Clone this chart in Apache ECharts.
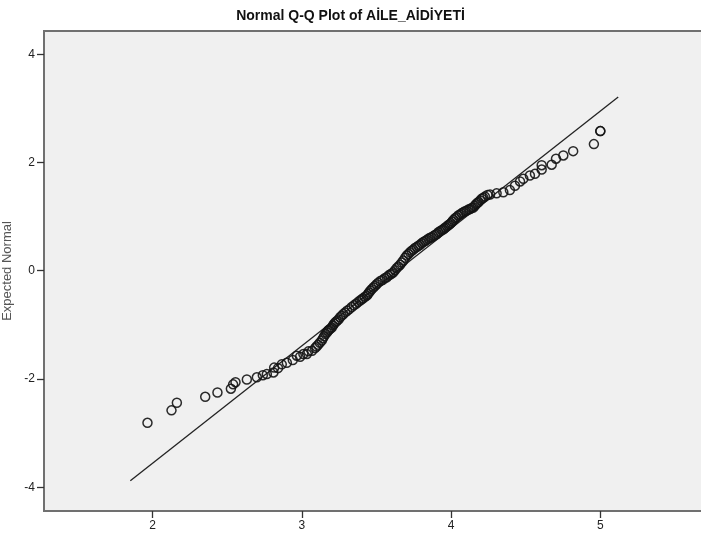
<!DOCTYPE html>
<html>
<head>
<meta charset="utf-8">
<script src="https://cdn.jsdelivr.net/npm/echarts@6/dist/echarts.min.js"></script>
<style>
html,body{margin:0;padding:0;background:#fff;}
#c{width:701px;height:534px;}
</style>
</head>
<body>
<div id="c"></div>
<script>
var titleText = 'Normal Q-Q Plot of AİLE_AİDİYETİ';
var yAxisName = 'Expected Normal';
var xTicks = [2, 3, 4, 5];
var yTicks = [-4, -2, 0, 2, 4];

var qqPoints = [
  [1.965,-2.81],[2.126,-2.58],[2.162,-2.44],[2.352,-2.33],[2.434,-2.25],
  [2.524,-2.18],[2.539,-2.10],[2.555,-2.06],[2.631,-2.01],[2.698,-1.97],
  [2.738,-1.93],[2.765,-1.91],[2.809,-1.88],[2.814,-1.79],[2.840,-1.80],
  [2.865,-1.73],[2.899,-1.70],[2.939,-1.65],[2.966,-1.57],[2.988,-1.59],
  [3.010,-1.54],[3.033,-1.54],[3.044,-1.49],[3.068,-1.48],[3.088,-1.43],
  [3.098,-1.40],[3.108,-1.37],[3.120,-1.33],[3.133,-1.29],[3.141,-1.25],
  [3.149,-1.21],[3.158,-1.17],[3.167,-1.14],[3.175,-1.11],[3.182,-1.09],
  [3.191,-1.07],[3.200,-1.05],[3.208,-1.01],[3.216,-0.98],[3.225,-0.95],
  [3.234,-0.93],[3.245,-0.90],[3.256,-0.86],[3.267,-0.83],[3.278,-0.80],
  [3.290,-0.77],[3.303,-0.74],[3.318,-0.71],[3.334,-0.67],[3.348,-0.64],
  [3.363,-0.61],[3.376,-0.58],[3.390,-0.55],[3.400,-0.53],[3.410,-0.51],
  [3.423,-0.48],[3.435,-0.46],[3.443,-0.43],[3.450,-0.40],[3.459,-0.37],
  [3.468,-0.34],[3.479,-0.31],[3.490,-0.28],[3.501,-0.25],[3.512,-0.22],
  [3.526,-0.19],[3.540,-0.17],[3.555,-0.14],[3.569,-0.12],[3.580,-0.09],
  [3.591,-0.07],[3.602,-0.05],[3.613,-0.03],[3.624,0.01],[3.636,0.05],
  [3.647,0.08],[3.658,0.11],[3.669,0.15],[3.680,0.19],[3.692,0.24],
  [3.703,0.28],[3.714,0.31],[3.725,0.34],[3.736,0.37],[3.747,0.39],
  [3.758,0.42],[3.770,0.44],[3.781,0.46],[3.792,0.48],[3.803,0.51],
  [3.814,0.53],[3.826,0.55],[3.837,0.57],[3.848,0.59],[3.859,0.61],
  [3.870,0.62],[3.881,0.64],[3.892,0.66],[3.904,0.68],[3.915,0.71],
  [3.926,0.73],[3.936,0.75],[3.946,0.76],[3.954,0.78],[3.962,0.80],
  [3.972,0.82],[3.981,0.84],[3.990,0.86],[3.999,0.88],[4.008,0.91],
  [4.016,0.94],[4.027,0.97],[4.037,0.99],[4.048,1.02],[4.059,1.04],
  [4.070,1.06],[4.082,1.08],[4.093,1.10],[4.104,1.11],[4.116,1.13],
  [4.127,1.14],[4.138,1.16],[4.149,1.17],[4.158,1.20],[4.167,1.23],
  [4.176,1.25],[4.184,1.27],[4.195,1.30],[4.205,1.33],[4.216,1.35],
  [4.227,1.37],[4.244,1.40],[4.261,1.41],[4.305,1.43],[4.350,1.45],
  [4.394,1.49],[4.428,1.57],[4.462,1.65],[4.484,1.70],[4.528,1.76],
  [4.562,1.79],[4.607,1.87],[4.607,1.95],[4.674,1.96],[4.703,2.07],
  [4.752,2.13],[4.818,2.21],[4.957,2.34],[5.000,2.58],[5.000,2.58]
];
var refLinePoints = [[1.85,-3.88],[5.12,3.21]];

var fontFam = 'Liberation Sans, Arial, sans-serif';
var chart = echarts.init(document.getElementById('c'), null, {renderer: 'canvas'});
chart.setOption({
  animation: false,
  backgroundColor: '#ffffff',
  title: {
    text: titleText,
    left: 'center',
    top: 4,
    textStyle: {fontFamily: fontFam, fontSize: 14, fontWeight: 'bold', color: '#111'}
  },
  grid: {
    left: 44, top: 31, right: -6, bottom: 23,
    containLabel: false, outerBoundsMode: 'none',
    show: true, backgroundColor: '#f0f0f0', borderColor: '#707070', borderWidth: 2
  },
  xAxis: {
    type: 'value', min: 1.2715, max: 5.715,
    axisLine: {show: true, onZero: false, lineStyle: {color: '#707070', width: 2}},
    axisTick: {show: true, inside: false, customValues: xTicks, length: 7, lineStyle: {color: '#333', width: 1.3}},
    axisLabel: {customValues: xTicks, margin: 9, fontFamily: fontFam, fontSize: 12, color: '#222'},
    splitLine: {show: false}
  },
  yAxis: {
    type: 'value', min: -4.44, max: 4.43,
    name: yAxisName, nameLocation: 'middle', nameGap: 29, nameRotate: 90,
    nameTextStyle: {fontFamily: fontFam, fontSize: 13, color: '#555'},
    axisLine: {show: true, onZero: false, lineStyle: {color: '#707070', width: 2}},
    axisTick: {show: true, inside: false, customValues: yTicks, length: 7, lineStyle: {color: '#333', width: 1.3}},
    axisLabel: {customValues: yTicks, margin: 9, fontFamily: fontFam, fontSize: 12, color: '#222'},
    splitLine: {show: false}
  },
  series: [
    {
      type: 'line', data: refLinePoints, symbol: 'none', silent: true,
      lineStyle: {color: '#222', width: 1.3}, z: 2
    },
    {
      type: 'scatter', data: qqPoints, symbol: 'circle', symbolSize: 9,
      itemStyle: {color: 'rgba(0,0,0,0)', borderColor: 'rgba(20,20,20,0.9)', borderWidth: 1.5, opacity: 1},
      z: 3
    }
  ]
});
</script>
</body>
</html>
